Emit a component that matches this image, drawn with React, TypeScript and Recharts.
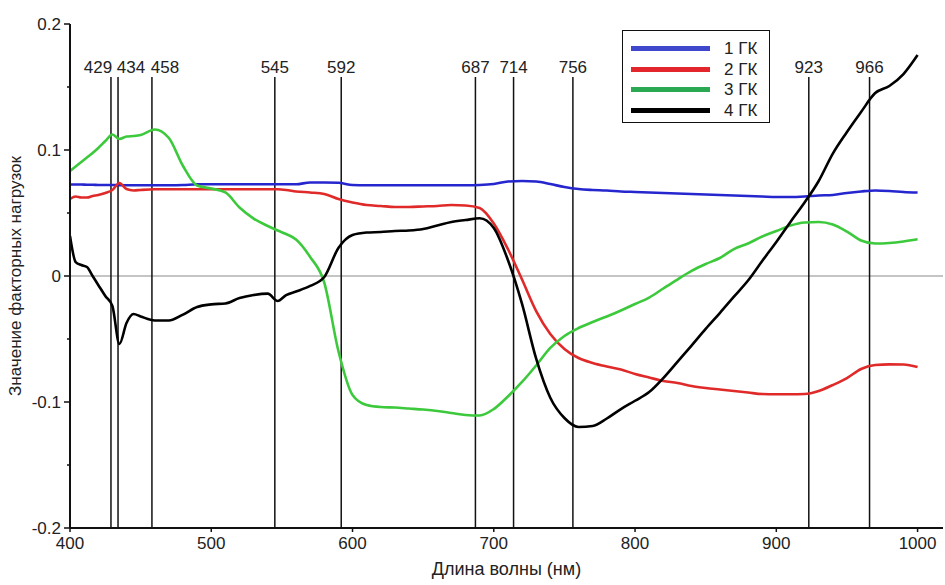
import React from "react";
import {
  LineChart,
  Line,
  XAxis,
  YAxis,
  ReferenceLine,
} from "recharts";

// длины волн, нм
const wavelengths = [
  400, 404, 408, 412, 416, 420, 425, 430, 435, 440, 445, 450,
  460, 470, 480, 490, 500, 510, 520, 530, 540, 547, 553,
  560, 570, 580, 590, 600, 610, 620, 630, 640, 650, 660, 670, 680, 690,
  700, 710, 720, 730, 740, 750, 760, 770, 780, 790, 800, 810, 820, 830,
  840, 850, 860, 870, 880, 890, 900, 910, 920, 930, 940, 950, 960, 970,
  980, 990, 1000,
];

const gk1 = [
  0.0726, 0.0726, 0.0726, 0.0724, 0.0724, 0.0722, 0.0722, 0.0722, 0.072, 0.072, 0.072, 0.072,
  0.072, 0.072, 0.0722, 0.0728, 0.0728, 0.0728, 0.0728, 0.0728, 0.0728, 0.0728, 0.0728,
  0.0728, 0.0742, 0.0742, 0.074, 0.0722, 0.072, 0.072, 0.072, 0.072, 0.072, 0.072, 0.072, 0.072, 0.0722,
  0.073, 0.075, 0.0754, 0.075, 0.073, 0.0706, 0.069, 0.0683, 0.0679, 0.0671, 0.0667, 0.0663, 0.0659, 0.0655,
  0.0651, 0.0647, 0.0643, 0.0639, 0.0635, 0.0631, 0.0627, 0.0627, 0.0631, 0.0639, 0.0643, 0.0659, 0.0671, 0.0679,
  0.0675, 0.0667, 0.0663,
];

const gk2 = [
  0.0611, 0.0631, 0.0623, 0.0623, 0.0635, 0.0643, 0.0659, 0.0683, 0.0738, 0.069, 0.0679, 0.0683,
  0.0688, 0.0688, 0.0688, 0.0688, 0.0688, 0.0688, 0.0688, 0.0688, 0.0688, 0.0688, 0.0683,
  0.0671, 0.0663, 0.0651, 0.0611, 0.0583, 0.0563, 0.0556, 0.0548, 0.0548, 0.0552, 0.0556, 0.0563, 0.056, 0.054,
  0.0417, 0.0214, -0.0028, -0.0278, -0.046, -0.0579, -0.0651, -0.069, -0.0718, -0.0742, -0.0778, -0.0806, -0.0833, -0.0849,
  -0.0873, -0.0889, -0.0901, -0.0913, -0.0925, -0.0937, -0.0939, -0.0939, -0.0937, -0.0913, -0.0865, -0.081, -0.0738, -0.0706,
  -0.0701, -0.0702, -0.0722,
];

const gk3 = [
  0.0833, 0.0869, 0.0905, 0.094, 0.0976, 0.1016, 0.1071, 0.1123, 0.1087, 0.1107, 0.1111, 0.1119,
  0.1163, 0.1095, 0.0873, 0.0718, 0.0694, 0.0663, 0.0544, 0.0456, 0.0397, 0.0361, 0.0333,
  0.029, 0.0151, -0.0052, -0.0595, -0.0944, -0.1024, -0.104, -0.1044, -0.1052, -0.106, -0.1071, -0.1087, -0.1103, -0.1107,
  -0.1056, -0.0956, -0.0841, -0.071, -0.0571, -0.0476, -0.0413, -0.0365, -0.0321, -0.0274, -0.0222, -0.0171, -0.0099, -0.0028,
  0.004, 0.0095, 0.0143, 0.0214, 0.0258, 0.0313, 0.0357, 0.0401, 0.0425, 0.0429, 0.0409, 0.0353, 0.0282, 0.0258,
  0.0262, 0.0274, 0.0291,
];

const gk4 = [
  0.0317, 0.0111, 0.0087, 0.0071, 0.0, -0.0071, -0.0159, -0.0238, -0.054, -0.0373, -0.0302, -0.0321,
  -0.0353, -0.0353, -0.0306, -0.0246, -0.0225, -0.0218, -0.0175, -0.0151, -0.014, -0.0198, -0.0151,
  -0.0123, -0.0079, -0.0008, 0.0222, 0.0325, 0.0345, 0.0349, 0.0357, 0.0361, 0.0373, 0.0401, 0.0429, 0.0444, 0.0458,
  0.0381, 0.0127, -0.0222, -0.0656, -0.0966, -0.1127, -0.1198, -0.119, -0.1131, -0.1056, -0.099, -0.0921, -0.081, -0.0681,
  -0.0552, -0.042, -0.0294, -0.0164, -0.0036, 0.0119, 0.027, 0.0429, 0.0583, 0.0754, 0.0972, 0.1143, 0.1302, 0.1452,
  0.1508, 0.1603, 0.1754,
];

// отмеченные длины волн
const markers = [429, 434, 458, 545, 592, 687, 714, 756, 923, 966];

const xTicks = [400, 500, 600, 700, 800, 900, 1000];
const yTicks = [-0.2, -0.15, -0.1, -0.05, 0, 0.05, 0.1, 0.15, 0.2];

const series = [
  { key: "gk1", name: "1 ГК", color: "#2626cf", legend: "#3f48cc" },
  { key: "gk2", name: "2 ГК", color: "#e02a2a", legend: "#e3262b" },
  { key: "gk3", name: "3 ГК", color: "#3cc93c", legend: "#2aa852" },
  { key: "gk4", name: "4 ГК", color: "#000000", legend: "#000000" },
];

const data = wavelengths.map((nm, i) => ({
  nm,
  gk1: gk1[i],
  gk2: gk2[i],
  gk3: gk3[i],
  gk4: gk4[i],
}));

const FONT = "'Liberation Sans', Arial, sans-serif";
const MARKER_TOP = 0.158;
// подписи близких линий разведены в стороны
const LABEL_SHIFT: Record<number, number> = { 429: -13, 434: 13, 458: 13 };

function YTick(props: any) {
  const { x, y, payload } = props;
  const v = payload.value;
  const major = Math.abs(v * 10 - Math.round(v * 10)) < 1e-6;
  return (
    <g>
      <line x1={x - (major ? 6 : 3)} x2={x} y1={y} y2={y} stroke="#111" strokeWidth={1.5} />
      {major && (
        <text x={x - 9} y={y} dy="0.36em" textAnchor="end" fontSize={17} fill="#222" fontFamily={FONT}>
          {String(Math.round(v * 10) / 10)}
        </text>
      )}
    </g>
  );
}

function ChartLegend() {
  return (
    <div
      style={{
        position: "absolute",
        left: 622,
        top: 30,
        width: 146,
        height: 91,
        border: "1.5px solid #111",
        background: "#fff",
        fontFamily: FONT,
        fontSize: 17,
        color: "#222",
      }}
    >
      {series.map((s, i) => (
        <div
          key={s.key}
          style={{ position: "absolute", left: 8, top: 9 + i * 20.5, height: 17, display: "flex", alignItems: "center" }}
        >
          <div style={{ width: 79, height: 5, background: s.legend }} />
          <span style={{ marginLeft: 14, lineHeight: "17px" }}>{s.name}</span>
        </div>
      ))}
    </div>
  );
}

export default function App() {
  return (
    <div style={{ position: "absolute", left: 0, top: 0, width: 945, height: 585, background: "#fff", fontFamily: FONT }}>
      <LineChart width={945} height={585} data={data} margin={{ top: 24, right: 2, bottom: 0, left: 0 }}>
        <XAxis
          dataKey="nm"
          type="number"
          domain={[400, 1018]}
          ticks={xTicks}
          allowDataOverflow
          height={57}
          tickSize={4}
          tickMargin={5}
          axisLine={{ stroke: "#111", strokeWidth: 2 }}
          tickLine={{ stroke: "#111", strokeWidth: 1.5 }}
          tick={{ fontSize: 17, fill: "#222", fontFamily: FONT }}
          label={{
            value: "Длина волны (нм)",
            position: "insideBottom",
            offset: 10,
            fontSize: 18,
            fill: "#222",
            fontFamily: FONT,
          }}
        />
        <YAxis
          type="number"
          domain={[-0.2, 0.2]}
          ticks={yTicks}
          width={70}
          tickSize={0}
          tickMargin={0}
          interval={0}
          axisLine={{ stroke: "#111", strokeWidth: 2 }}
          tickLine={false}
          tick={<YTick />}
          label={{
            content: () => (
              <text
                x={21}
                y={276}
                transform="rotate(-90 21 276)"
                textAnchor="middle"
                fontSize={17}
                fill="#222"
                fontFamily={FONT}
              >
                Значение факторных нагрузок
              </text>
            ),
          }}
        />
        <ReferenceLine y={0} stroke="#8a8a8a" strokeWidth={1} />
        {markers.map((m) => (
          <ReferenceLine
            key={m}
            segment={[
              { x: m, y: -0.2 },
              { x: m, y: MARKER_TOP },
            ]}
            stroke="#111"
            strokeWidth={1.5}
            label={{
              value: String(m),
              position: "top",
              offset: 4,
              dx: LABEL_SHIFT[m] || 0,
              fontSize: 17,
              fill: "#222",
              fontFamily: FONT,
            }}
          />
        ))}
        {series.map((s) => (
          <Line
            key={s.key}
            dataKey={s.key}
            name={s.name}
            type="monotone"
            stroke={s.color}
            strokeWidth={2.6}
            dot={false}
            isAnimationActive={false}
          />
        ))}
      </LineChart>
      <ChartLegend />
    </div>
  );
}
